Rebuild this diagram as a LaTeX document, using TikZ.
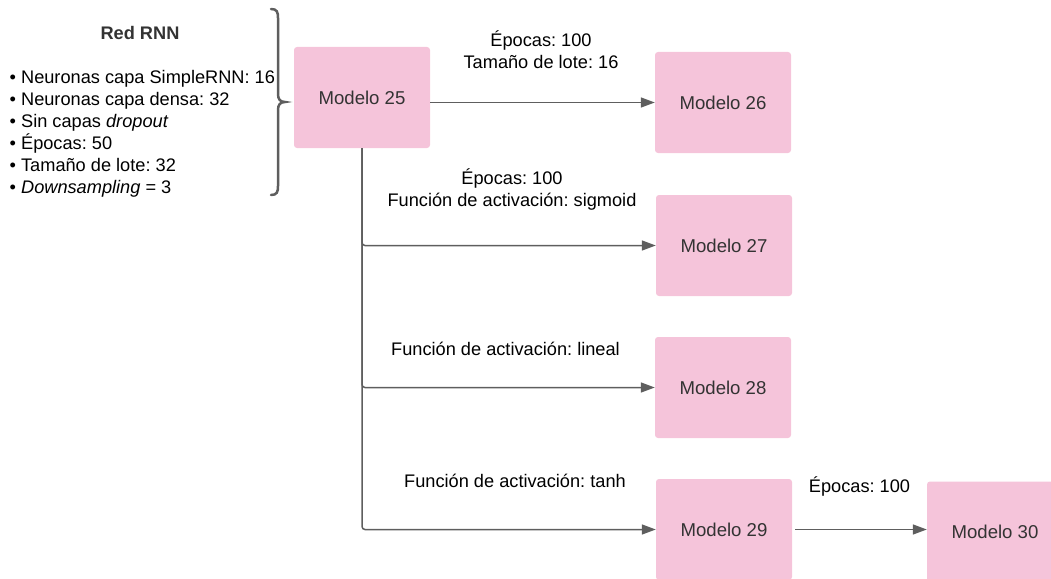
\documentclass[tikz,border=0pt]{standalone}
\usepackage{fontspec}
\setmainfont{Liberation Sans}
\usetikzlibrary{arrows.meta}
\definecolor{boxpink}{HTML}{F5C4DA}
\definecolor{linegray}{HTML}{5E5E5E}
\definecolor{txtgray}{HTML}{333333}
\frenchspacing
\begin{document}
\begin{tikzpicture}[x=1pt,y=-1pt,
  model/.style={fill=boxpink,rounded corners=3pt,minimum width=136pt,minimum height=101pt,inner sep=0pt,
    font=\fontsize{18.6}{22}\selectfont,text=txtgray},
  lbl/.style={font=\fontsize{18.2}{22}\selectfont,align=center,inner sep=0pt,text=black},
  conn/.style={draw=linegray,line width=1.5pt,-{Triangle[length=14pt,width=10pt]},rounded corners=3pt}]
\useasboundingbox (0,0) rectangle (1051,578);
% left description
\node[font=\fontsize{18.2}{22}\selectfont\bfseries,text=txtgray,inner sep=0pt] (title) at (140,33) {Red RNN};
\node[font=\fontsize{18.2}{22}\selectfont,align=left,anchor=north west,inner sep=0pt] (list) at (9.5,70) {%
• Neuronas capa SimpleRNN: 16\\
• Neuronas capa densa: 32\\
• Sin capas \textit{dropout}\\
• Épocas: 50\\
• Tamaño de lote: 32\\
• \textit{Downsampling} = 3};
% brace
\draw[linegray,line width=2.5pt,line cap=round]
  (271,9) .. controls (277,9) and (278,12) .. (278,18) -- (278,94)
  .. controls (278,99) and (280,102) .. (285,102)
  .. controls (280,102) and (278,105) .. (278,110) -- (278,186)
  .. controls (278,192) and (277,195) .. (271,195);
% boxes
\node[model] (m25) at (362,97.5) {Modelo 25};
\node[model] (m26) at (723,102.5) {Modelo 26};
\node[model] (m27) at (724,245.5) {Modelo 27};
\node[model] (m28) at (723,387.5) {Modelo 28};
\node[model] (m29) at (724,529.5) {Modelo 29};
\node[model] (m30) at (995,532) {Modelo 30};
% connectors
\draw[conn] (m25.east |- m26.west) -- (m26.west);
\draw[conn] (m25.south) |- (m27.west);
\draw[conn] (m25.south) |- (m28.west);
\draw[conn] (m25.south) |- (m29.west);
\draw[conn] ([xshift=3pt]m29.east) -- (m30.west |- m29.east);
% labels
\node[lbl] (l26) at (541,50) {Épocas: 100\\Tamaño de lote: 16};
\node[lbl] (l27) at (512,189) {Épocas: 100\\Función de activación: sigmoid};
\node[lbl] (l28) at (505.5,349) {Función de activación: lineal};
\node[lbl] (l29) at (515,481) {Función de activación: tanh};
\node[lbl] (l30) at (859.5,486) {Épocas: 100};
\end{tikzpicture}
\end{document}
